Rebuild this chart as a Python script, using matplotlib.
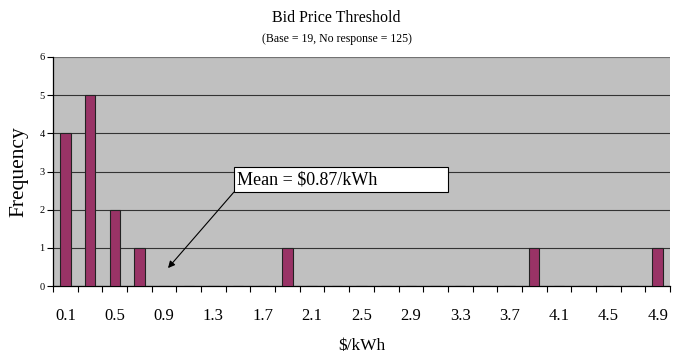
import matplotlib.pyplot as plt
from matplotlib.patches import Rectangle

# bin labels ($/kWh) and counts
price_bins = ['0.1', '0.3', '0.5', '0.7', '0.9', '1.1', '1.3', '1.5', '1.7',
              '1.9', '2.1', '2.3', '2.5', '2.7', '2.9', '3.1', '3.3', '3.5',
              '3.7', '3.9', '4.1', '4.3', '4.5', '4.7', '4.9']
frequency = [4, 5, 2, 1, 0, 0, 0, 0, 0,
             1, 0, 0, 0, 0, 0, 0, 0, 0,
             0, 1, 0, 0, 0, 0, 1]
mean_label = 'Mean = $0.87/kWh'

plt.rcParams['font.family'] = ['Liberation Serif', 'DejaVu Serif']

fig = plt.figure(figsize=(6.73, 3.56), dpi=100)
ax = fig.add_axes([53 / 673, 1 - 286 / 356, 617 / 673, 229 / 356])
ax.set_facecolor('#C0C0C0')

x = list(range(len(price_bins)))
ax.bar(x, frequency, width=0.42, color='#993366', edgecolor='#222222',
       linewidth=0.8, zorder=3)

ax.set_xlim(-0.5, len(price_bins) - 0.5)
ax.set_ylim(0, 6)
ax.set_yticks(range(7))
ax.tick_params(axis='y', labelsize=7.5, length=4, width=0.8, direction='out', pad=2)
ax.yaxis.grid(True, color='#333333', linewidth=0.8, zorder=1)

# category labels on every other bin, tick marks between bins
ax.set_xticks(x[::2])
ax.set_xticklabels(price_bins[::2], fontsize=12)
ax.set_xticks([i - 0.5 for i in x] + [len(x) - 0.5], minor=True)
ax.tick_params(axis='x', which='major', length=0, pad=16)
ax.tick_params(axis='x', which='minor', length=4, width=0.8, direction='out')

for side in ['top', 'right']:
    ax.spines[side].set_visible(False)
ax.spines['left'].set_linewidth(0.9)
ax.spines['bottom'].set_linewidth(0.9)
ax.axhline(6, color='#808080', linewidth=1.2, zorder=2)

ax.set_ylabel('Frequency', fontsize=15.5, labelpad=8)
ax.set_xlabel('$/kWh', fontsize=12.5, labelpad=10)

fig.text(0.5, 1 - 18 / 356, 'Bid Price Threshold', ha='center', va='center', fontsize=11.5)
fig.text(0.5, 1 - 39 / 356, '(Base = 19, No response = 125)', ha='center',
         va='center', fontsize=8.5)

# mean call-out box and arrow
ax.add_patch(Rectangle((6.83, 2.46), 8.66, 0.66, facecolor='white',
                       edgecolor='black', linewidth=0.8, zorder=5))
ax.text(6.95, 2.79, mean_label, fontsize=13, va='center', ha='left', zorder=6)
ax.annotate('', xy=(4.16, 0.47), xytext=(6.83, 2.46),
            arrowprops=dict(arrowstyle='-|>', color='black', lw=0.8,
                            mutation_scale=10, shrinkA=0, shrinkB=0), zorder=6)

fig.savefig('out.png', dpi=100)
